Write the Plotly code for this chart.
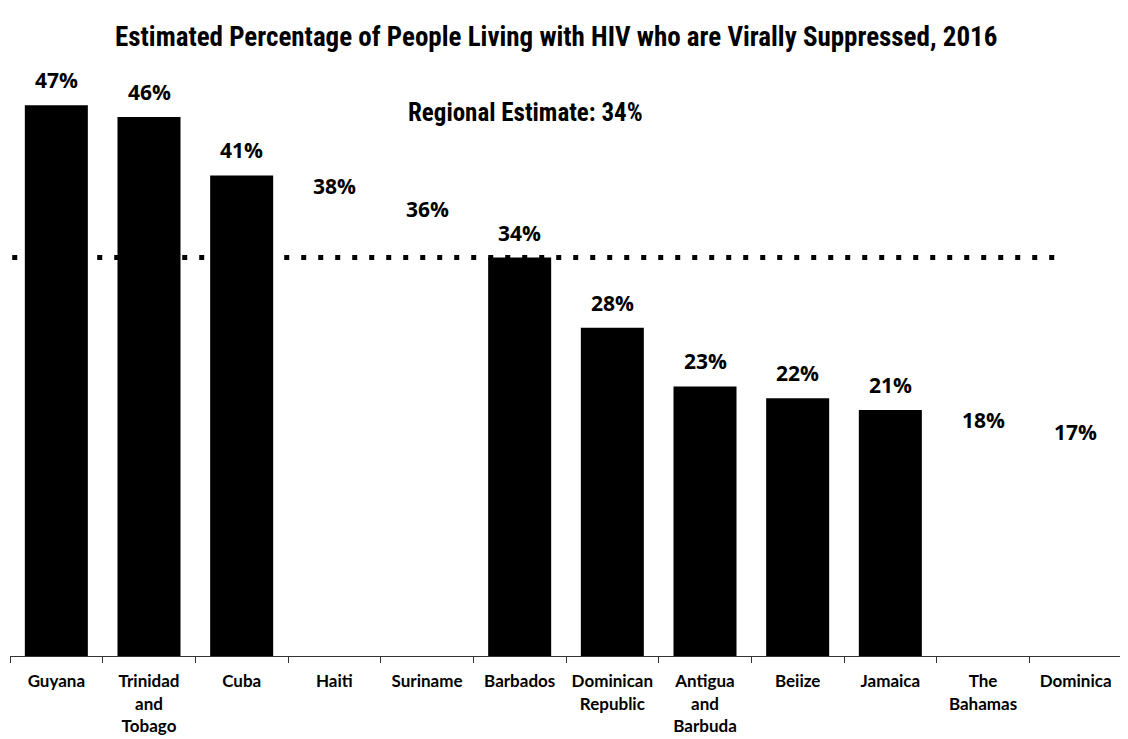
import plotly.graph_objects as go

countries = ["Guyana", "Trinidad<br>and<br>Tobago", "Cuba", "Haiti", "Suriname", "Barbados",
             "Dominican<br>Republic", "Antigua<br>and<br>Barbuda", "Beiize", "Jamaica",
             "The<br>Bahamas", "Dominica"]
values = [47, 46, 41, 38, 36, 34, 28, 23, 22, 21, 18, 17]
value_labels = ["47%", "46%", "41%", "38%", "36%", "34%", "28%", "23%", "22%", "21%", "18%", "17%"]
bar_colors = ["#000000", "#000000", "#000000", "#ffffff", "#ffffff", "#000000",
              "#000000", "#000000", "#000000", "#000000", "#ffffff", "#ffffff"]
regional_estimate = 34
title_text = "Estimated Percentage of People Living with HIV who are Virally Suppressed, 2016"
regional_text = "Regional Estimate: 34%"

COND = "Liberation Sans Narrow, Roboto Condensed, DejaVu Sans Condensed, sans-serif"

fig = go.Figure()
fig.add_trace(go.Bar(
    x=countries, y=values,
    marker=dict(color=bar_colors, line=dict(width=0)),
    hoverinfo="skip",
))

for cat, val, lab in zip(countries, values, value_labels):
    fig.add_annotation(x=cat, y=val, xref="x", yref="y", text=lab, showarrow=False,
                       xanchor="center", yanchor="bottom", yshift=9,
                       font=dict(family="Open Sans", size=21, color="#000000", weight="bold"))

fig.add_shape(type="line", xref="paper", yref="y", x0=0.002, x1=0.944,
              y0=regional_estimate, y1=regional_estimate,
              line=dict(color="#000000", width=5, dash="5px,12px"), layer="above")

fig.add_annotation(text=regional_text, xref="paper", yref="paper", x=0.464, y=0.928,
                   showarrow=False, xanchor="center", yanchor="middle",
                   font=dict(family=COND, size=25, color="#000000", weight="bold"))

fig.update_layout(
    width=1128, height=739,
    margin=dict(l=2, r=14, t=62, b=91, autoexpand=False),
    paper_bgcolor="white", plot_bgcolor="white",
    bargap=0.32, showlegend=False,
    title=dict(text=title_text, x=0.486, xanchor="center", y=0.962, yanchor="middle",
               font=dict(family=COND, size=27, color="#000000", weight="bold")),
    xaxis=dict(showline=True, linecolor="#333333", linewidth=1, ticks="outside",
               tickson="boundaries", ticklen=6, tickcolor="#333333", showgrid=False,
               automargin=False, tickangle=0, ticklabelstandoff=10,
               tickfont=dict(family="Lato", size=17, color="#000000", weight="bold")),
    yaxis=dict(range=[0, 50], visible=False, showgrid=False, automargin=False),
)

fig.write_html("out.html")
